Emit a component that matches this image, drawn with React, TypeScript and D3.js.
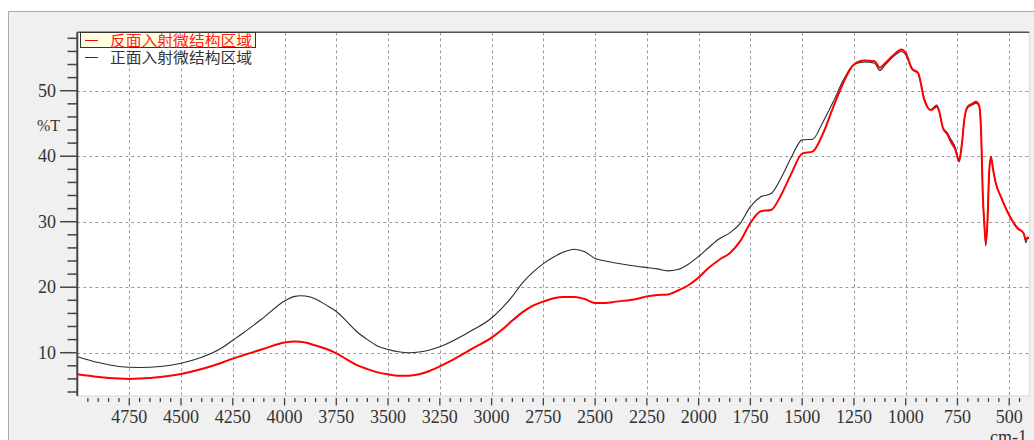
import React from "react";
import * as d3 from "d3";

// Wavenumber sampling (cm-1), shared by both spectra
const wavenumbers = [
  5000, 4900, 4800, 4750, 4700, 4600, 4500, 4400, 4300, 4250, 4200, 4100, 4000, 3950, 3925, 3900, 3850,
  3800, 3750, 3700, 3650, 3600, 3550, 3500, 3450, 3400, 3350, 3300, 3250, 3200, 3100, 3000, 2950, 2900,
  2850, 2800, 2750, 2700, 2650, 2600, 2550, 2500, 2450, 2400, 2300, 2250, 2200, 2150, 2100, 2050, 2000,
  1950, 1900, 1850, 1800, 1750, 1700, 1650, 1600, 1550, 1500, 1450, 1400, 1350, 1300, 1250, 1200, 1150,
  1125, 1100, 1060, 1020, 1000, 970, 940, 910, 880, 860, 850, 840, 820, 800, 780, 760, 742, 730, 715, 700,
  680, 660, 645, 635, 628, 620, 613, 605, 597, 588, 578, 565, 540, 500, 460, 430, 420, 410, 405,
];

// 反面入射微结构区域 (%T)
const backIncidence = [
  6.7, 6.3, 6.05, 6.0, 6.05, 6.3, 6.75, 7.5, 8.5, 9.1, 9.6, 10.6, 11.55, 11.7, 11.68, 11.55, 11.1,
  10.6, 9.9, 9.0, 8.1, 7.5, 7.0, 6.7, 6.5, 6.5, 6.7, 7.2, 7.9, 8.7, 10.5, 12.3, 13.5, 14.9,
  16.2, 17.2, 17.8, 18.3, 18.5, 18.5, 18.2, 17.6, 17.6, 17.8, 18.2, 18.6, 18.8, 18.9, 19.5, 20.3, 21.5,
  23.0, 24.2, 25.2, 27.0, 29.8, 31.6, 31.8, 34.2, 37.5, 40.4, 40.7, 43.4, 47.5, 51.3, 54.0, 54.6, 54.5,
  53.5, 54.2, 55.4, 56.3, 55.8, 53.4, 52.7, 48.6, 47.05, 47.4, 47.6, 47.05, 44.3, 43.4, 42.1, 41.0, 39.2, 41.5, 46.0, 47.6,
  48.0, 48.3, 47.7, 43.0, 34.5, 29.5, 26.7, 30.0, 37.4, 39.9, 38.0, 35.9, 33.8, 31.0, 29.0, 28.2, 27.3, 27.6, 27.5,
];

// 正面入射微结构区域 (%T)
const frontIncidence = [
  9.4, 8.5, 7.9, 7.77, 7.75, 7.9, 8.4, 9.3, 10.8, 11.9, 13.0, 15.4, 17.9, 18.6, 18.7, 18.65, 18.2,
  17.3, 16.3, 14.8, 13.2, 12.0, 11.0, 10.5, 10.15, 10.0, 10.1, 10.4, 10.9, 11.6, 13.3, 15.3, 16.8, 18.6,
  20.7, 22.3, 23.6, 24.6, 25.4, 25.8, 25.4, 24.4, 24.0, 23.7, 23.2, 23.0, 22.8, 22.5, 22.7, 23.5, 24.7,
  26.1, 27.4, 28.3, 29.7, 32.3, 33.8, 34.3, 36.8, 40.0, 42.5, 42.6, 45.2, 48.3, 51.7, 54.0, 54.4, 54.2,
  53.1, 53.9, 55.2, 56.0, 55.5, 53.3, 52.6, 48.8, 47.1, 47.6, 47.8, 47.1, 44.3, 43.6, 42.5, 41.3, 39.5, 41.5, 46.0, 47.4,
  47.8, 48.1, 47.6, 43.0, 34.5, 29.5, 26.3, 30.0, 37.4, 39.8, 38.0, 35.9, 33.8, 31.0, 29.1, 28.2, 26.8, 27.6, 27.4,
];

const xMajorTicks = [4750, 4500, 4250, 4000, 3750, 3500, 3250, 3000, 2750, 2500, 2250, 2000, 1750, 1500, 1250, 1000, 750, 500];
const yMajorTicks = [10, 20, 30, 40, 50];
const seriesNames = ["反面入射微结构区域", "正面入射微结构区域"];

const W = 1034;
const H = 440;
const plot = { left: 77.3, right: 1029.3, top: 32.3, bottom: 396 };

export default function App() {
  const x = d3.scaleLinear().domain([5001, 403]).range([plot.left, plot.right]);
  const y = d3.scaleLinear().domain([3.39, 58.92]).range([plot.bottom, plot.top]);

  const xMinor = d3.range(4950, 400, -50).filter((v) => v % 250 !== 0);
  const yMinor = d3.range(4, 59, 2).filter((v) => v % 10 !== 0);

  const line = d3
    .line<number>()
    .x((_, i) => x(wavenumbers[i]))
    .y((d) => y(d))
    .curve(d3.curveMonotoneX);

  const serif = "'Liberation Serif', 'DejaVu Serif', serif";
  const cjk = "'Noto Sans CJK SC', 'Noto Sans', sans-serif";
  const axisColor = "#444";
  const labelColor = "#333";

  return (
    <svg
      width={W}
      height={H}
      style={{ position: "absolute", left: 0, top: 0, background: "#fff" }}
    >
      <defs>
        <clipPath id="plot-clip">
          <rect x={plot.left} y={plot.top} width={plot.right - plot.left} height={plot.bottom - plot.top} />
        </clipPath>
      </defs>

      {/* outer panel */}
      <rect x={8.5} y={11.5} width={1040} height={440} fill="#f0f0f0" stroke="#aaa" />

      {/* plot area */}
      <rect
        x={plot.left}
        y={plot.top}
        width={plot.right - plot.left}
        height={plot.bottom - plot.top}
        fill="#fff"
        stroke="#d8d8d8"
      />

      {/* grid */}
      <g stroke="#9a9a9a" strokeWidth={1} strokeDasharray="3,3">
        {xMajorTicks.map((t) => (
          <line key={"gx" + t} x1={Math.round(x(t)) + 0.5} x2={Math.round(x(t)) + 0.5} y1={plot.top} y2={plot.bottom} />
        ))}
        {yMajorTicks.map((t) => (
          <line key={"gy" + t} x1={plot.left} x2={plot.right} y1={Math.round(y(t)) + 0.5} y2={Math.round(y(t)) + 0.5} />
        ))}
      </g>

      {/* top frame */}
      <line x1={plot.left} x2={plot.right} y1={plot.top} y2={plot.top} stroke="#555" strokeWidth={1.5} />

      {/* spectra */}
      <g clipPath="url(#plot-clip)" fill="none">
        <path d={line(frontIncidence) ?? ""} stroke="#2a2a2a" strokeWidth={1.1} />
        <path d={line(backIncidence) ?? ""} stroke="#ff0000" strokeWidth={2} />
      </g>

      {/* y axis */}
      <line x1={plot.left} x2={plot.left} y1={plot.top} y2={plot.bottom} stroke={axisColor} strokeWidth={2} />
      <g stroke={axisColor} strokeWidth={1.5}>
        {yMinor.map((t) => (
          <line key={"ym" + t} x1={67.5} x2={plot.left} y1={y(t)} y2={y(t)} />
        ))}
        {yMajorTicks.map((t) => (
          <line key={"yM" + t} x1={60} x2={plot.left} y1={y(t)} y2={y(t)} />
        ))}
      </g>
      <g fontFamily={serif} fontSize={18} fill={labelColor} textAnchor="end">
        {yMajorTicks.map((t) => (
          <text key={"yl" + t} x={56} y={y(t) + 6}>
            {t}
          </text>
        ))}
      </g>
      <text x={37} y={131} fontFamily={serif} fontSize={16} fill={labelColor}>
        %T
      </text>

      {/* x axis ticks */}
      <g stroke={axisColor} strokeWidth={1.3}>
        {xMinor.map((t) => (
          <line key={"xm" + t} x1={x(t)} x2={x(t)} y1={398} y2={402} />
        ))}
        {xMajorTicks.map((t) => (
          <line key={"xM" + t} x1={x(t)} x2={x(t)} y1={398} y2={405.5} />
        ))}
      </g>
      <g fontFamily={serif} fontSize={18} fill={labelColor} textAnchor="middle">
        {xMajorTicks.map((t) => (
          <text key={"xl" + t} x={x(t)} y={422.7}>
            {t}
          </text>
        ))}
      </g>
      <text x={990} y={443} fontFamily={serif} fontSize={18} fill={labelColor}>
        cm-1
      </text>

      {/* legend */}
      <rect x={80.5} y={32.5} width={175} height={15} fill="#ffffe1" stroke="#333" strokeWidth={1} />
      <line x1={85} x2={98} y1={40.5} y2={40.5} stroke="#ff0000" strokeWidth={1} />
      <text x={110} y={45.5} fontFamily={cjk} fontSize={14.5} fill="#ff2020" textLength={142} lengthAdjust="spacingAndGlyphs">
        {seriesNames[0]}
      </text>
      <line x1={85} x2={98} y1={57.5} y2={57.5} stroke="#333" strokeWidth={1} />
      <text x={110} y={62.5} fontFamily={cjk} fontSize={14.5} fill="#333" textLength={142} lengthAdjust="spacingAndGlyphs">
        {seriesNames[1]}
      </text>
    </svg>
  );
}
